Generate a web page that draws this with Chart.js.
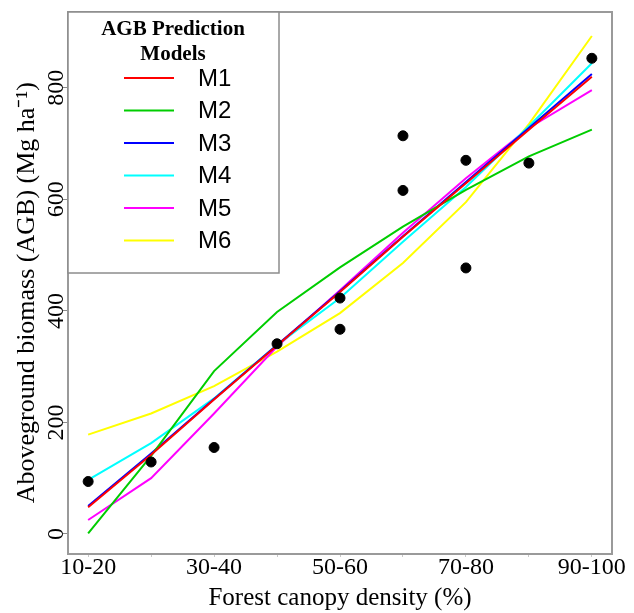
<!DOCTYPE html>
<html>
<head>
<meta charset="utf-8">
<script src="https://cdn.jsdelivr.net/npm/chart.js@4.4.1/dist/chart.umd.min.js"></script>
<style>
  html, body { margin: 0; padding: 0; background: #fff; }
</style>
</head>
<body>
<canvas id="agbChart" width="634" height="613"></canvas>
<script>
const categories = ['10-20', '20-30', '30-40', '40-50', '50-60', '60-70', '70-80', '80-90', '90-100'];

// observed plots (canopy class, AGB)
const observedClass = ['10-20', '20-30', '30-40', '40-50', '50-60', '50-60', '60-70', '60-70', '70-80', '70-80', '80-90', '90-100'];
const observedAGB = [94, 129, 155, 341, 423, 367, 714, 616, 670, 477, 665, 853];

// model predictions per canopy class
const m1 = [48, 142, 241, 338, 434, 533, 629, 725, 820];
const m2 = [1, 140, 292, 398, 478, 551, 617, 677, 725];
const m3 = [50, 144, 242, 339, 435, 534, 631, 728, 825];
const m4 = [97, 163, 243, 339, 423, 524, 622, 731, 844];
const m5 = [25, 100, 216, 336, 437, 540, 638, 728, 796];
const m6 = [178, 216, 265, 327, 396, 486, 595, 735, 893];

const modelNames = ['M1', 'M2', 'M3', 'M4', 'M5', 'M6'];
const modelColors = ['#ff0000', '#00cd00', '#0000ff', '#00ffff', '#ff00ff', '#ffff00'];
const yTicks = [0, 200, 400, 600, 800];

const serif = '"Liberation Serif", "Times New Roman", serif';
const sans = '"Liberation Sans", Arial, sans-serif';

const toPoints = arr => arr.map((v, i) => ({ x: i, y: v }));

const lineSets = [m1, m2, m3, m4, m5, m6].map((vals, i) => ({
  label: modelNames[i],
  data: toPoints(vals),
  borderColor: modelColors[i],
  backgroundColor: modelColors[i],
  borderWidth: 2,
  pointRadius: 0,
  tension: 0,
  fill: false,
  order: 1
}));

const observedSet = {
  label: 'Observed',
  isObserved: true,
  data: observedAGB.map((v, i) => ({ x: categories.indexOf(observedClass[i]), y: v })),
  showLine: false,
  pointRadius: 5,
  pointBackgroundColor: '#000',
  pointBorderColor: '#000',
  order: 0
};

// plot frame + legend box drawn inside the chart area
const frameAndLegend = {
  id: 'frameAndLegend',
  afterDatasetsDraw(chart) {
    const { ctx, chartArea } = chart;
    ctx.save();
    ctx.strokeStyle = '#9a9a9a';
    ctx.lineWidth = 2;
    ctx.strokeRect(chartArea.left, chartArea.top, chartArea.right - chartArea.left, chartArea.bottom - chartArea.top);

    const x = chartArea.left, y = chartArea.top, w = 211, h = 261;
    ctx.fillStyle = '#fff';
    ctx.fillRect(x, y, w, h);
    ctx.strokeStyle = '#8c8c8c';
    ctx.lineWidth = 1.5;
    ctx.strokeRect(x, y, w, h);

    ctx.fillStyle = '#000';
    ctx.textAlign = 'center';
    ctx.textBaseline = 'middle';
    ctx.font = 'bold 21px ' + serif;
    ctx.fillText('AGB Prediction', x + 105, y + 18);
    ctx.fillText('Models', x + 105, y + 43);

    ctx.textAlign = 'left';
    ctx.font = '24px ' + sans;
    chart.data.datasets.filter(d => !d.isObserved).forEach((d, i) => {
      const ry = y + 66 + i * 32.5;
      ctx.strokeStyle = d.borderColor;
      ctx.lineWidth = 2;
      ctx.beginPath();
      ctx.moveTo(x + 56, ry);
      ctx.lineTo(x + 106, ry);
      ctx.stroke();
      ctx.fillStyle = '#000';
      ctx.fillText(d.label, x + 130, ry + 1);
    });
    ctx.restore();
  }
};

new Chart(document.getElementById('agbChart').getContext('2d'), {
  type: 'line',
  data: { datasets: [observedSet, ...lineSets] },
  options: {
    responsive: false,
    animation: false,
    layout: { padding: { top: 12, right: 22, left: 0, bottom: 0 } },
    plugins: {
      legend: { display: false },
      tooltip: { enabled: false }
    },
    scales: {
      x: {
        type: 'linear',
        min: -0.32,
        max: 8.32,
        afterBuildTicks: scale => { scale.ticks = categories.map((c, i) => ({ value: i })); },
        afterFit: scale => { scale.height = 59; },
        grid: { drawOnChartArea: false, drawTicks: true, tickLength: 3, color: '#c8c8c8' },
        border: { display: false },
        ticks: {
          autoSkip: false,
          maxRotation: 0,
          padding: -4,
          color: '#000',
          font: { family: serif, size: 24 },
          callback: v => (v % 2 === 0 ? categories[v] : '')
        },
        title: {
          display: true,
          text: 'Forest canopy density (%)',
          color: '#000',
          font: { family: serif, size: 25 },
          padding: { top: 1, bottom: 0 }
        }
      },
      y: {
        type: 'linear',
        min: -36,
        max: 936,
        afterBuildTicks: scale => { scale.ticks = yTicks.map(v => ({ value: v })); },
        afterFit: scale => { scale.width = 68; },
        grid: { drawOnChartArea: false, drawTicks: true, tickLength: 5, color: '#8c8c8c' },
        border: { display: false },
        ticks: {
          minRotation: 90,
          maxRotation: 90,
          crossAlign: 'center',
          padding: -12,
          color: '#000',
          font: { family: serif, size: 24 }
        },
        title: {
          display: true,
          text: 'Aboveground biomass (AGB) (Mg ha\u207B\u00B9)\u00A0\u00A0\u00A0',
          color: '#000',
          font: { family: serif, size: 26 },
          padding: { top: 12, bottom: 0 }
        }
      }
    }
  },
  plugins: [frameAndLegend]
});
</script>
</body>
</html>
